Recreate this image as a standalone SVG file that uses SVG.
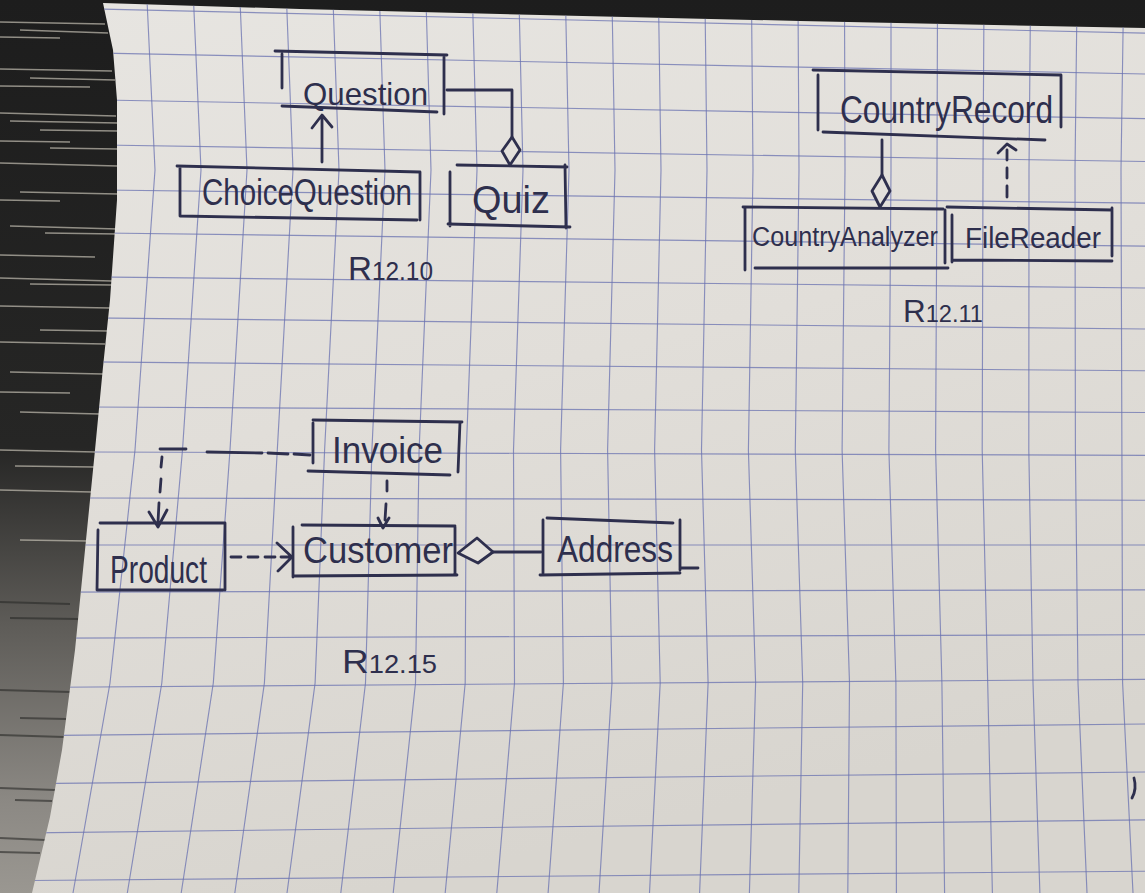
<svg xmlns="http://www.w3.org/2000/svg" width="1145" height="893" viewBox="0 0 1145 893">
  <defs>
    <linearGradient id="bg" x1="0" y1="0" x2="0" y2="1">
      <stop offset="0" stop-color="#1d1d1d"/>
      <stop offset="0.5" stop-color="#262625"/>
      <stop offset="0.7" stop-color="#5e5c58"/>
      <stop offset="0.9" stop-color="#8c8984"/>
      <stop offset="1" stop-color="#9a9791"/>
    </linearGradient>
    <linearGradient id="paperg" x1="0" y1="0" x2="0.3" y2="1">
      <stop offset="0" stop-color="#e7e5e1"/>
      <stop offset="0.5" stop-color="#e1ded9"/>
      <stop offset="1" stop-color="#d8d5cf"/>
    </linearGradient>
    <clipPath id="paperclip">
      <path d="M103,3 L300,9 L500,14 L800,21 L1145,28 L1145,893 L32,893 L50,817 L62,750 L75,650 L85,550 L95,450 L103,367 L110,300 L117,200 L117,100 L113,50 Z"/>
    </clipPath>
  </defs>
  <style>
    .ink { fill: none; stroke: #2e2f4d; stroke-width: 2.8; stroke-linecap: round; stroke-linejoin: round; }
    .dia { fill: #e3e0db; stroke: #2e2f4d; stroke-width: 2.8; stroke-linejoin: round; }
    .t { font-family: "Liberation Sans", Arial, sans-serif; fill: #2e2f4d; }
    .grid line, .grid polyline { fill: none; stroke: #6a72b0; stroke-width: 1.15; opacity: 0.75; }
    .streak line { stroke: #cfcabd; stroke-width: 1.5; opacity: 0.65; }
    .streak2 line { stroke: #2a2a28; stroke-width: 2; opacity: 0.6; }
  </style>

  <!-- background (desk) -->
  <rect x="0" y="0" width="1145" height="893" fill="url(#bg)"/>
  <g class="streak">
    <line x1="0" y1="22" x2="105" y2="24"/>
    <line x1="20" y1="30" x2="108" y2="33"/>
    <line x1="0" y1="37" x2="60" y2="38"/>
    <line x1="0" y1="69" x2="112" y2="71"/>
    <line x1="30" y1="78" x2="115" y2="80"/>
    <line x1="0" y1="86" x2="90" y2="87"/>
    <line x1="0" y1="113" x2="116" y2="116"/>
    <line x1="10" y1="121" x2="118" y2="123"/>
    <line x1="40" y1="130" x2="118" y2="131"/>
    <line x1="0" y1="141" x2="70" y2="142"/>
    <line x1="50" y1="148" x2="118" y2="149"/>
    <line x1="0" y1="163" x2="118" y2="166"/>
    <line x1="20" y1="192" x2="118" y2="194"/>
    <line x1="0" y1="200" x2="60" y2="201"/>
    <line x1="10" y1="226" x2="118" y2="229"/>
    <line x1="45" y1="233" x2="118" y2="234"/>
    <line x1="0" y1="255" x2="95" y2="257"/>
    <line x1="0" y1="278" x2="112" y2="281"/>
    <line x1="30" y1="284" x2="112" y2="285"/>
    <line x1="0" y1="306" x2="110" y2="308"/>
    <line x1="40" y1="330" x2="108" y2="331"/>
    <line x1="0" y1="342" x2="105" y2="344"/>
    <line x1="10" y1="372" x2="103" y2="374"/>
    <line x1="0" y1="392" x2="70" y2="393"/>
    <line x1="20" y1="412" x2="100" y2="414"/>
    <line x1="0" y1="450" x2="96" y2="452"/>
    <line x1="15" y1="466" x2="94" y2="467"/>
    <line x1="0" y1="490" x2="92" y2="492"/>
    <line x1="20" y1="540" x2="88" y2="541"/>
  </g>
  <g class="streak2">
    <line x1="0" y1="602" x2="70" y2="604"/>
    <line x1="10" y1="618" x2="78" y2="619"/>
    <line x1="0" y1="690" x2="70" y2="692"/>
    <line x1="20" y1="718" x2="66" y2="719"/>
    <line x1="0" y1="735" x2="64" y2="737"/>
    <line x1="0" y1="788" x2="55" y2="790"/>
    <line x1="15" y1="800" x2="52" y2="801"/>
    <line x1="0" y1="838" x2="45" y2="840"/>
    <line x1="0" y1="852" x2="40" y2="853"/>
  </g>

  <!-- paper -->
  <path d="M103,3 L300,9 L500,14 L800,21 L1145,28 L1145,893 L32,893 L50,817 L62,750 L75,650 L85,550 L95,450 L103,367 L110,300 L117,200 L117,100 L113,50 Z" fill="url(#paperg)"/>

  <!-- grid -->
  <g class="grid" clip-path="url(#paperclip)">
    <polyline points="147,0 155,170 135,450 110,683 73,893"/>
    <polyline points="193.5,0 201,170 182.5,450 161.8,683 127.3,893"/>
    <polyline points="240,0 247,170 230,450 213.3,683 181.2,893"/>
    <polyline points="286.5,0 293,170 277.3,450 264.4,683 234.8,893"/>
    <polyline points="333,0 339,170 324.6,450 315.1,683 287,893"/>
    <polyline points="379.5,0 385,170 371.9,450 365.5,683 340.8,893"/>
    <polyline points="426,0 431,170 419.1,450 415.5,683 393.2,893"/>
    <polyline points="472.5,0 477,170 466.3,450 465.2,683 445.2,893"/>
    <polyline points="519,0 523,170 513.5,450 514.5,683 496.8,893"/>
    <polyline points="565.5,0 569,170 560.6,450 563.4,683 548.1,893"/>
    <polyline points="612,0 615,170 607.6,450 612,683 599,893"/>
    <polyline points="658.5,0 661,170 654.6,450 660.2,683 649.5,893"/>
    <polyline points="705,0 707,170 701.5,450 708.1,683 699.6,893"/>
    <polyline points="751.5,0 753,170 748.4,450 755.6,683 749.4,893"/>
    <polyline points="798,0 799,170 795.3,450 802.7,683 798.8,893"/>
    <polyline points="844.5,0 845,170 842.1,450 849.5,683 847.8,893"/>
    <polyline points="891,0 891,170 888.9,450 895.9,683 896.4,893"/>
    <polyline points="937.5,0 937,170 935.6,450 941.9,683 944.6,893"/>
    <polyline points="984,0 983,170 982.2,450 987.7,683 992.4,893"/>
    <polyline points="1030.5,0 1029,170 1028.8,450 1033,683 1039.9,893"/>
    <polyline points="1077,0 1075,170 1075.4,450 1078,683 1087,893"/>
    <polyline points="1123.5,0 1121,170 1121.9,450 1122.6,683 1133,893"/>
    <line x1="0" y1="6.7" x2="1145" y2="33.2"/>
    <line x1="0" y1="51" x2="1145" y2="74"/>
    <line x1="0" y1="98.2" x2="1145" y2="118.7"/>
    <line x1="0" y1="143.4" x2="1145" y2="161.5"/>
    <line x1="0" y1="188.7" x2="1145" y2="203.2"/>
    <line x1="0" y1="231.7" x2="1145" y2="246.2"/>
    <line x1="0" y1="276" x2="1145" y2="288"/>
    <line x1="0" y1="317" x2="1145" y2="329"/>
    <line x1="0" y1="361.2" x2="1145" y2="370.8"/>
    <line x1="0" y1="406.5" x2="1145" y2="412.5"/>
    <line x1="0" y1="451.7" x2="1145" y2="455.3"/>
    <line x1="0" y1="497.8" x2="1145" y2="500.2"/>
    <line x1="0" y1="545" x2="1145" y2="545"/>
    <line x1="0" y1="592.2" x2="1145" y2="589.8"/>
    <line x1="0" y1="638.3" x2="1145" y2="634.7"/>
    <line x1="0" y1="687.7" x2="1145" y2="679.3"/>
    <line x1="0" y1="736" x2="1145" y2="724"/>
    <line x1="0" y1="784" x2="1145" y2="772"/>
    <line x1="0" y1="833.2" x2="1145" y2="819.9"/>
    <line x1="0" y1="880.8" x2="1145" y2="871.2"/>
  </g>

  <!-- connectors -->
  <g id="connectors">
    <!-- R12.10 -->
    <path class="ink" d="M447,90 L512,90 L512,137"/>
    <path class="dia" d="M512,137 L502,151 L510,165 L520,150 Z"/>
    <path class="ink" d="M322,162 L322,116 M312,128 L322,115 L332,127"/>
    <!-- R12.11 -->
    <path class="ink" d="M882,140 L882,175"/>
    <path class="dia" d="M882,175 L872,191 L880,207 L890,191 Z"/>
    <path class="ink" d="M1007,197 L1007,186 M1007,178 L1007,168 M1007,160 L1007,150 M998,153 L1007,144 L1016,150"/>
    <!-- R12.15 -->
    <path class="ink" d="M160,449 L186,449 M207,452 L262,453 M268,453 L288,454 M294,454 L310,455"/>
    <path class="ink" d="M162,457 L161,467 M161,479 L160,492 M159,503 L158,522 M149,512 L158,527 L167,510"/>
    <path class="ink" d="M387,481 L387,491 M386,504 L385,520 M378,518 L383,528 L389,518"/>
    <path class="ink" d="M231,557 L241,557 M248,557 L258,557 M265,557 L275,557 M281,557 L290,557 M277,543 L292,557 L278,571"/>
    <path class="dia" d="M458,553 L477,538 L493,552 L478,563 Z"/>
    <path class="ink" d="M493,552 L541,552"/>
  </g>

  <!-- nodes -->
  <g id="question">
    <path class="ink" d="M275,51 L447,55 M282,54 L282,88 M282,106 L437,112 M444,57 L444,114"/>
    <text class="t" x="303" y="105" font-size="32" textLength="125" lengthAdjust="spacingAndGlyphs">Question</text>
  </g>
  <g id="choicequestion">
    <path class="ink" d="M177,166 L420,172 M180,168 L180,216 M180,216 L417,220 M420,172 L420,220"/>
    <text class="t" x="202" y="205" font-size="36" textLength="210" lengthAdjust="spacingAndGlyphs">ChoiceQuestion</text>
  </g>
  <g id="quiz">
    <path class="ink" d="M457,165 L567,167 M450,172 L450,226 M448,224 L570,227 M565,165 L566,228"/>
    <text class="t" x="472" y="213" font-size="38" textLength="78" lengthAdjust="spacingAndGlyphs">Quiz</text>
  </g>
  <g id="label-r1210">
    <text class="t" x="348" y="280" font-size="34" textLength="85" lengthAdjust="spacingAndGlyphs">R<tspan font-size="25">12.10</tspan></text>
  </g>

  <g id="countryrecord">
    <path class="ink" d="M813,70 L1060,75 M818,75 L818,130 M823,132 L1045,140 M1061,75 L1061,127"/>
    <text class="t" x="840" y="123" font-size="38" textLength="213" lengthAdjust="spacingAndGlyphs">CountryRecord</text>
  </g>
  <g id="countryanalyzer">
    <path class="ink" d="M743,207 L943,209 M745,208 L745,270 M755,268 L948,268 M945,210 L945,263"/>
    <text class="t" x="752" y="246" font-size="27" textLength="186" lengthAdjust="spacingAndGlyphs">CountryAnalyzer</text>
  </g>
  <g id="filereader">
    <path class="ink" d="M947,207 L1112,210 M952,215 L952,262 M952,260 L1112,261 M1112,208 L1112,256"/>
    <text class="t" x="965" y="248" font-size="30" textLength="136" lengthAdjust="spacingAndGlyphs">FileReader</text>
  </g>
  <g id="label-r1211">
    <text class="t" x="903" y="322" font-size="32" textLength="80" lengthAdjust="spacingAndGlyphs">R<tspan font-size="24">12.11</tspan></text>
  </g>

  <g id="invoice">
    <path class="ink" d="M313,420 L462,422 M313,423 L313,463 M308,471 L450,475 M460,422 L458,472"/>
    <text class="t" x="332" y="463" font-size="36" textLength="111" lengthAdjust="spacingAndGlyphs">Invoice</text>
  </g>
  <g id="product">
    <path class="ink" d="M100,523 L225,523 M98,530 L97,590 M98,590 L223,590 M225,523 L225,590"/>
    <text class="t" x="110" y="583" font-size="38" textLength="97" lengthAdjust="spacingAndGlyphs">Product</text>
  </g>
  <g id="customer">
    <path class="ink" d="M302,525 L455,526 M293,527 L293,577 M293,576 L457,575 M455,527 L455,575"/>
    <text class="t" x="303" y="563" font-size="36" textLength="150" lengthAdjust="spacingAndGlyphs">Customer</text>
  </g>
  <g id="address">
    <path class="ink" d="M547,518 L673,523 M543,520 L543,573 M540,575 L680,573 M680,520 L680,570 M680,568 L698,568"/>
    <text class="t" x="557" y="562" font-size="36" textLength="116" lengthAdjust="spacingAndGlyphs">Address</text>
  </g>
  <g id="label-r1215">
    <text class="t" x="342" y="673" font-size="34" textLength="95" lengthAdjust="spacingAndGlyphs">R<tspan font-size="25">12.15</tspan></text>
  </g>

  <!-- stray pen mark at right edge -->
  <path class="ink" d="M1134,778 Q1137,789 1132,798" stroke-width="2.5"/>
</svg>
